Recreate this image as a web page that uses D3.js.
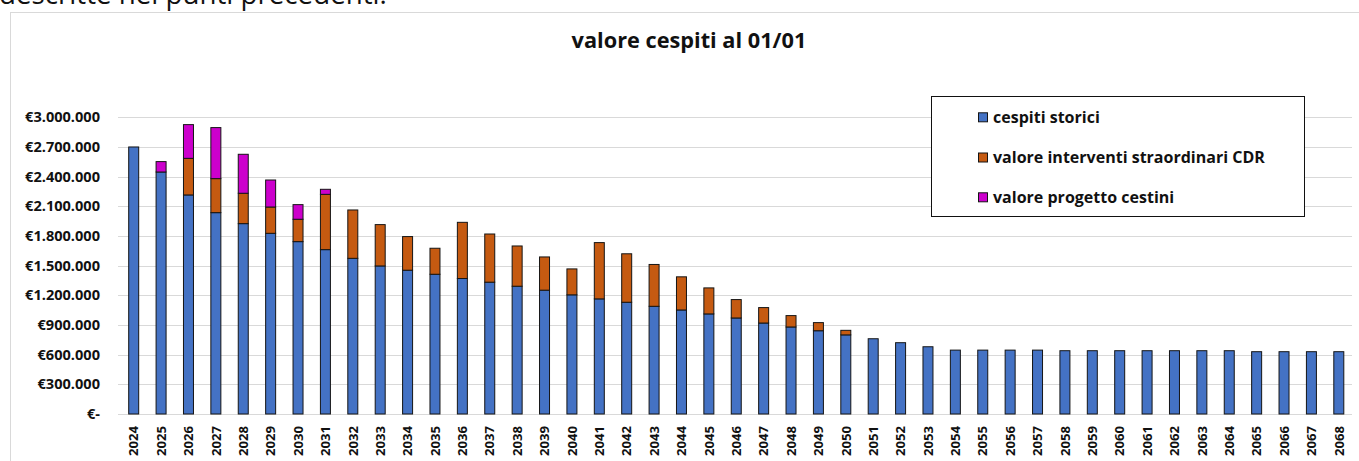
<!DOCTYPE html>
<html>
<head>
<meta charset="utf-8">
<script src="https://cdn.jsdelivr.net/npm/d3@7"></script>
<style>
  html, body { margin: 0; padding: 0; background: #fff; }
  svg { display: block; }
</style>
</head>
<body>
<svg id="chart" width="1359" height="461"></svg>
<script>
// ---- DATA ----
const years = d3.range(2024, 2069).map(String);
const cespitiStorici = [
  2700000, 2447000, 2215000, 2036000, 1925000, 1827000, 1743000, 1662000, 1574000, 1497000,
  1454000, 1413000, 1370000, 1333000, 1292000, 1252000, 1205000, 1164000, 1130000, 1089000,
  1052000, 1012000, 971000, 920000, 880000, 842000, 800000, 761000, 721000, 680000,
  646000, 646000, 646000, 646000, 640000, 640000, 640000, 640000, 640000, 640000,
  640000, 630000, 630000, 630000, 630000
];
const interventiCDR = [
  0, 0, 370000, 344000, 307000, 266000, 226000, 559000, 489000, 418000,
  340000, 263000, 568000, 487000, 407000, 336000, 262000, 569000, 490000, 423000,
  335000, 263000, 186000, 156000, 115000, 82000, 46000, 0, 0, 0,
  0, 0, 0, 0, 0, 0, 0, 0, 0, 0,
  0, 0, 0, 0, 0
];
const progettoCestini = [
  0, 105000, 341000, 516000, 394000, 273000, 148000, 51000, 0, 0,
  0, 0, 0, 0, 0, 0, 0, 0, 0, 0,
  0, 0, 0, 0, 0, 0, 0, 0, 0, 0,
  0, 0, 0, 0, 0, 0, 0, 0, 0, 0,
  0, 0, 0, 0, 0
];
const seriesNames = ["cespiti storici", "valore interventi straordinari CDR", "valore progetto cestini"];
const seriesColors = ["#4472C4", "#C55A11", "#CC00CC"];
const yTicks = [0, 300000, 600000, 900000, 1200000, 1500000, 1800000, 2100000, 2400000, 2700000, 3000000];
const titleText = "valore cespiti al 01/01";
const topText = "descritte nei punti precedenti.";

// ---- CHART ----
const svg = d3.select("#chart");
const FONT = "'Open Sans', 'Noto Sans', sans-serif";

function fitFont(sel, sampleNode, target, base) {
  const w = sampleNode.getComputedTextLength();
  const fs = base * target / w;
  sel.attr("font-size", fs);
}

// top text (page text above the chart)
const tt = svg.append("text")
  .attr("x", -1).attr("y", 4)
  .attr("font-family", FONT).attr("font-size", 22).attr("fill", "#111")
  .text(topText);
fitFont(tt, tt.node(), 388, 22);

// chart frame
svg.append("rect")
  .attr("x", 10.5).attr("y", 12.5).attr("width", 1400).attr("height", 500)
  .attr("fill", "#fff").attr("stroke", "#d9d9d9").attr("stroke-width", 1);

// title
const title = svg.append("text")
  .attr("x", 689).attr("y", 48)
  .attr("text-anchor", "middle")
  .attr("font-family", FONT).attr("font-weight", "bold").attr("font-size", 18).attr("fill", "#111")
  .text(titleText);
fitFont(title, title.node(), 235, 18);

// scales
const x = d3.scaleBand().domain(years).range([120, 1352.5]).paddingInner(0.635).paddingOuter(0.3175);
const y = d3.scaleLinear().domain([0, 3000000]).range([414, 117.3]);

// gridlines
svg.append("g").selectAll("line").data(yTicks).join("line")
  .attr("x1", 118).attr("x2", 1352)
  .attr("y1", d => Math.round(y(d)) + 0.5).attr("y2", d => Math.round(y(d)) + 0.5)
  .attr("stroke", "#d9d9d9").attr("stroke-width", 1);

// y labels
const fmt = d => d === 0 ? "€-" : "€" + d3.format(",")(d).replace(/,/g, ".");
const yl = svg.append("g").selectAll("text").data(yTicks).join("text")
  .attr("x", 100).attr("y", d => y(d))
  .attr("dy", "0.35em")
  .attr("text-anchor", "end")
  .attr("font-family", FONT).attr("font-weight", "bold").attr("font-size", 12).attr("fill", "#111")
  .text(fmt);
fitFont(yl, yl.nodes()[yl.size() - 1], 75, 12);

// stacked data
const rows = years.map((yr, i) => ({ year: yr, s0: cespitiStorici[i], s1: interventiCDR[i], s2: progettoCestini[i] }));
const stack = d3.stack().keys(["s0", "s1", "s2"])(rows);

const gBars = svg.append("g");
stack.forEach((layer, li) => {
  gBars.append("g").selectAll("rect")
    .data(layer.filter(d => d[1] - d[0] > 0))
    .join("rect")
    .attr("x", d => x(d.data.year))
    .attr("width", x.bandwidth())
    .attr("y", d => y(d[1]))
    .attr("height", d => y(d[0]) - y(d[1]))
    .attr("fill", seriesColors[li])
    .attr("stroke", "#151515")
    .attr("stroke-width", 1);
});

// x labels
const xl = svg.append("g").selectAll("text").data(years).join("text")
  .attr("transform", d => `translate(${x(d) + x.bandwidth() / 2},426) rotate(-90)`)
  .attr("text-anchor", "end")
  .attr("dy", "0.36em")
  .attr("font-family", FONT).attr("font-weight", "bold").attr("font-size", 12).attr("fill", "#111")
  .text(d => d);
fitFont(xl, xl.nodes()[0], 30, 12);

// legend
const lg = svg.append("g");
lg.append("rect")
  .attr("x", 931.5).attr("y", 96.5).attr("width", 373).attr("height", 120)
  .attr("fill", "#fff").attr("stroke", "#111").attr("stroke-width", 1);
const legY = [117.3, 157.5, 197.3];
const items = lg.selectAll("g.item").data(seriesNames).join("g").attr("class", "item");
items.append("rect")
  .attr("x", 978.5).attr("y", (d, i) => legY[i] - 4.5)
  .attr("width", 9).attr("height", 9)
  .attr("fill", (d, i) => seriesColors[i])
  .attr("stroke", "#151515").attr("stroke-width", 1);
const lt = items.append("text")
  .attr("x", 993).attr("y", (d, i) => legY[i])
  .attr("dy", "0.35em")
  .attr("font-family", FONT).attr("font-weight", "bold").attr("font-size", 14).attr("fill", "#111")
  .text(d => d);
fitFont(lt, lt.nodes()[1], 272, 14);
</script>
</body>
</html>
